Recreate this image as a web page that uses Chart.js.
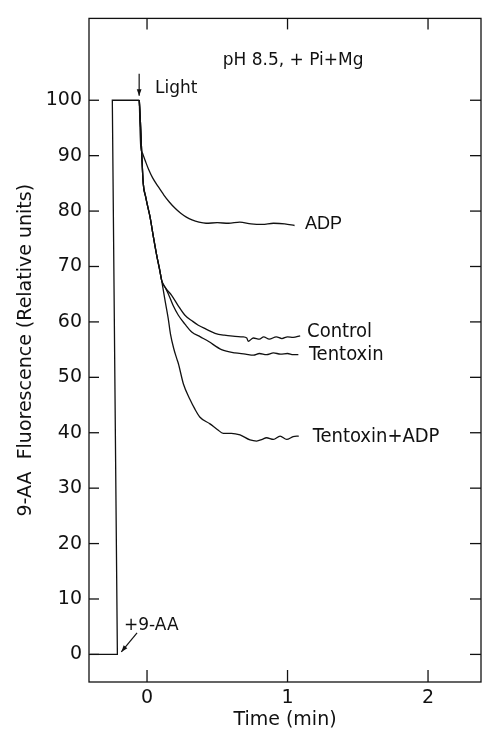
<!DOCTYPE html>
<html>
<head>
<meta charset="utf-8">
<script src="https://cdn.jsdelivr.net/npm/chart.js@4.4.0/dist/chart.umd.min.js"></script>
<style>
html, body { margin: 0; padding: 0; background: #fff; }
#wrap { width: 482px; height: 732px; }
</style>
</head>
<body>
<div id="wrap"><canvas id="myChart"></canvas></div>
<script>
// tick labels
var xTicks = [0, 1, 2];
var yTicks = [0, 10, 20, 30, 40, 50, 60, 70, 80, 90, 100];

// trace before light: baseline, +9-AA step, plateau
var preT = [-0.405, -0.211, -0.247, -0.055];
var preV = [0, 0, 100, 100];

// fast drop shared by Control, Tentoxin and Tentoxin+ADP
var commonT = [-0.055, -0.047, -0.038, -0.027, -0.01, 0.005, 0.021, 0.045, 0.069, 0.09, 0.104];
var commonV = [100, 96, 90.5, 85, 82.6, 80.8, 79, 75.4, 72, 69.4, 67.5];

var adpT = [-0.055, -0.05, -0.045, -0.03, -0.01, 0.01, 0.04, 0.08, 0.12, 0.16, 0.2, 0.24, 0.28, 0.32, 0.37, 0.42, 0.5, 0.58, 0.66, 0.74, 0.82, 0.9, 0.98, 1.05];
var adpV = [100, 95, 91.8, 90.3, 88.9, 87.6, 86.0, 84.4, 82.9, 81.6, 80.5, 79.6, 78.9, 78.4, 78.0, 77.8, 77.9, 77.8, 78, 77.7, 77.6, 77.8, 77.7, 77.4];

var controlT = [0.13, 0.175, 0.22, 0.27, 0.32, 0.365, 0.42, 0.484, 0.55, 0.626, 0.68, 0.71, 0.72, 0.757, 0.8, 0.83, 0.87, 0.92, 0.96, 1.0, 1.04, 1.09];
var controlV = [66.2, 64.8, 63.0, 61.2, 60.2, 59.4, 58.7, 57.95, 57.6, 57.4, 57.3, 57.1, 56.5, 57.1, 56.9, 57.3, 56.9, 57.3, 57.0, 57.3, 57.2, 57.5];

var tentoxinT = [0.13, 0.151, 0.185, 0.223, 0.27, 0.318, 0.38, 0.436, 0.53, 0.626, 0.7, 0.757, 0.8, 0.85, 0.9, 0.95, 1.0, 1.04, 1.077];
var tentoxinV = [66.2, 65.1, 63.0, 61.2, 59.6, 58.2, 57.3, 56.5, 55.0, 54.4, 54.2, 54.0, 54.3, 54.1, 54.4, 54.2, 54.3, 54.1, 54.1];

var tentAdpT = [0.13, 0.151, 0.167, 0.19, 0.21, 0.223, 0.259, 0.306, 0.34, 0.377, 0.448, 0.5, 0.543, 0.6, 0.662, 0.733, 0.78, 0.82, 0.85, 0.9, 0.947, 0.994, 1.04, 1.08];
var tentAdpV = [63.6, 60.6, 57.8, 55.2, 53.5, 52.5, 48.8, 46.0, 44.3, 42.8, 41.6, 40.6, 39.9, 39.9, 39.6, 38.7, 38.5, 38.8, 39.1, 38.8, 39.4, 38.8, 39.3, 39.4];

function pairs(t, v) {
    var out = [];
    for (var i = 0; i < t.length; i++) {
        out.push({x: t[i], y: v[i]});
    }
    return out;
}

var AXIS_FONT = '"DejaVu Sans", sans-serif';
var NARROW_FONT = '"Liberation Sans Narrow", "DejaVu Sans Condensed", sans-serif';

// labels and arrows placed in data units
var notes = [
    {text: 'pH 8.5, + Pi+Mg', x: 1.04, y: 107.1, align: 'center', font: '17px ' + AXIS_FONT},
    {text: 'Light', x: 0.057, y: 102.1, align: 'left', font: '17px ' + AXIS_FONT},
    {text: 'ADP', x: 1.125, y: 77.6, align: 'left', font: '18px "Liberation Sans", sans-serif'},
    {text: 'Control', x: 1.139, y: 58.2, align: 'left', font: '20px ' + NARROW_FONT},
    {text: 'Tentoxin', x: 1.153, y: 54.1, align: 'left', font: '20px ' + NARROW_FONT},
    {text: 'Tentoxin+ADP', x: 1.18, y: 39.3, align: 'left', font: '20px ' + NARROW_FONT},
    {text: '+9-AA', x: -0.164, y: 5.2, align: 'left', font: '17px ' + AXIS_FONT}
];
var arrows = [
    {x1: -0.056, y1: 104.8, x2: -0.056, y2: 100.8},
    {x1: -0.071, y1: 3.9, x2: -0.183, y2: 0.45}
];

var framePlugin = {
    id: 'frame',
    afterDraw: function (chart) {
        var ctx = chart.ctx;
        var a = chart.chartArea;
        var xs = chart.scales.x;
        var ys = chart.scales.y;
        ctx.save();
        ctx.strokeStyle = '#111';
        ctx.fillStyle = '#111';
        ctx.lineWidth = 1.3;
        ctx.strokeRect(a.left, a.top, a.right - a.left, a.bottom - a.top);

        function seg(x1, y1, x2, y2) {
            ctx.beginPath();
            ctx.moveTo(x1, y1);
            ctx.lineTo(x2, y2);
            ctx.stroke();
        }
        // inward ticks on all four sides
        yTicks.forEach(function (v) {
            var py = ys.getPixelForValue(v);
            seg(a.left, py, a.left + 10, py);
            seg(a.right - 11, py, a.right, py);
        });
        xTicks.forEach(function (v) {
            var px = xs.getPixelForValue(v);
            seg(px, a.bottom, px, a.bottom - 12);
            seg(px, a.top, px, a.top + 11);
        });

        ctx.textBaseline = 'middle';
        notes.forEach(function (n) {
            ctx.font = n.font;
            ctx.textAlign = n.align;
            ctx.fillText(n.text, xs.getPixelForValue(n.x), ys.getPixelForValue(n.y));
        });

        ctx.lineWidth = 1.2;
        arrows.forEach(function (r) {
            var x1 = xs.getPixelForValue(r.x1), y1 = ys.getPixelForValue(r.y1);
            var x2 = xs.getPixelForValue(r.x2), y2 = ys.getPixelForValue(r.y2);
            seg(x1, y1, x2, y2);
            var ang = Math.atan2(y2 - y1, x2 - x1);
            ctx.beginPath();
            ctx.moveTo(x2, y2);
            ctx.lineTo(x2 - 7 * Math.cos(ang - 0.35), y2 - 7 * Math.sin(ang - 0.35));
            ctx.lineTo(x2 - 7 * Math.cos(ang + 0.35), y2 - 7 * Math.sin(ang + 0.35));
            ctx.closePath();
            ctx.fill();
        });
        ctx.restore();
    }
};

function lineSet(data, smooth) {
    return {
        data: data,
        borderColor: '#111',
        borderWidth: 1.3,
        pointRadius: 0,
        fill: false,
        tension: smooth ? 0.4 : 0,
        cubicInterpolationMode: smooth ? 'monotone' : 'default'
    };
}

new Chart('myChart', {
    type: 'line',
    data: {
        datasets: [
            lineSet(pairs(preT, preV), false),
            lineSet(pairs(adpT, adpV), true),
            lineSet(pairs(commonT.concat(controlT), commonV.concat(controlV)), true),
            lineSet(pairs(commonT.concat(tentoxinT), commonV.concat(tentoxinV)), true),
            lineSet(pairs(commonT.concat(tentAdpT), commonV.concat(tentAdpV)), true)
        ]
    },
    options: {
        responsive: true,
        maintainAspectRatio: false,
        animation: false,
        layout: {padding: {top: 9, right: 1, left: 0, bottom: 0}},
        plugins: {
            legend: {display: false},
            tooltip: {enabled: false}
        },
        scales: {
            x: {
                type: 'linear',
                min: -0.413,
                max: 2.377,
                afterBuildTicks: function (scale) {
                    scale.ticks = xTicks.map(function (v) { return {value: v}; });
                },
                afterFit: function (scale) { scale.height = 50; },
                grid: {display: false, drawTicks: false},
                border: {display: false},
                ticks: {
                    color: '#111',
                    padding: 5,
                    font: {family: AXIS_FONT, size: 19}
                },
                title: {
                    display: true,
                    text: 'Time (min)',
                    color: '#111',
                    padding: {top: 0, bottom: 1},
                    font: {family: AXIS_FONT, size: 19}
                }
            },
            y: {
                min: -4.98,
                max: 114.77,
                afterBuildTicks: function (scale) {
                    scale.ticks = yTicks.map(function (v) { return {value: v}; });
                },
                afterFit: function (scale) { scale.width = 89; },
                grid: {display: false, drawTicks: false},
                border: {display: false},
                ticks: {
                    color: '#111',
                    padding: 7,
                    font: {family: AXIS_FONT, size: 19}
                },
                title: {
                    display: true,
                    text: '9-AA  Fluorescence (Relative units)',
                    color: '#111',
                    padding: {top: 15, bottom: 0},
                    font: {family: AXIS_FONT, size: 19}
                }
            }
        }
    },
    plugins: [framePlugin]
});
</script>
</body>
</html>
